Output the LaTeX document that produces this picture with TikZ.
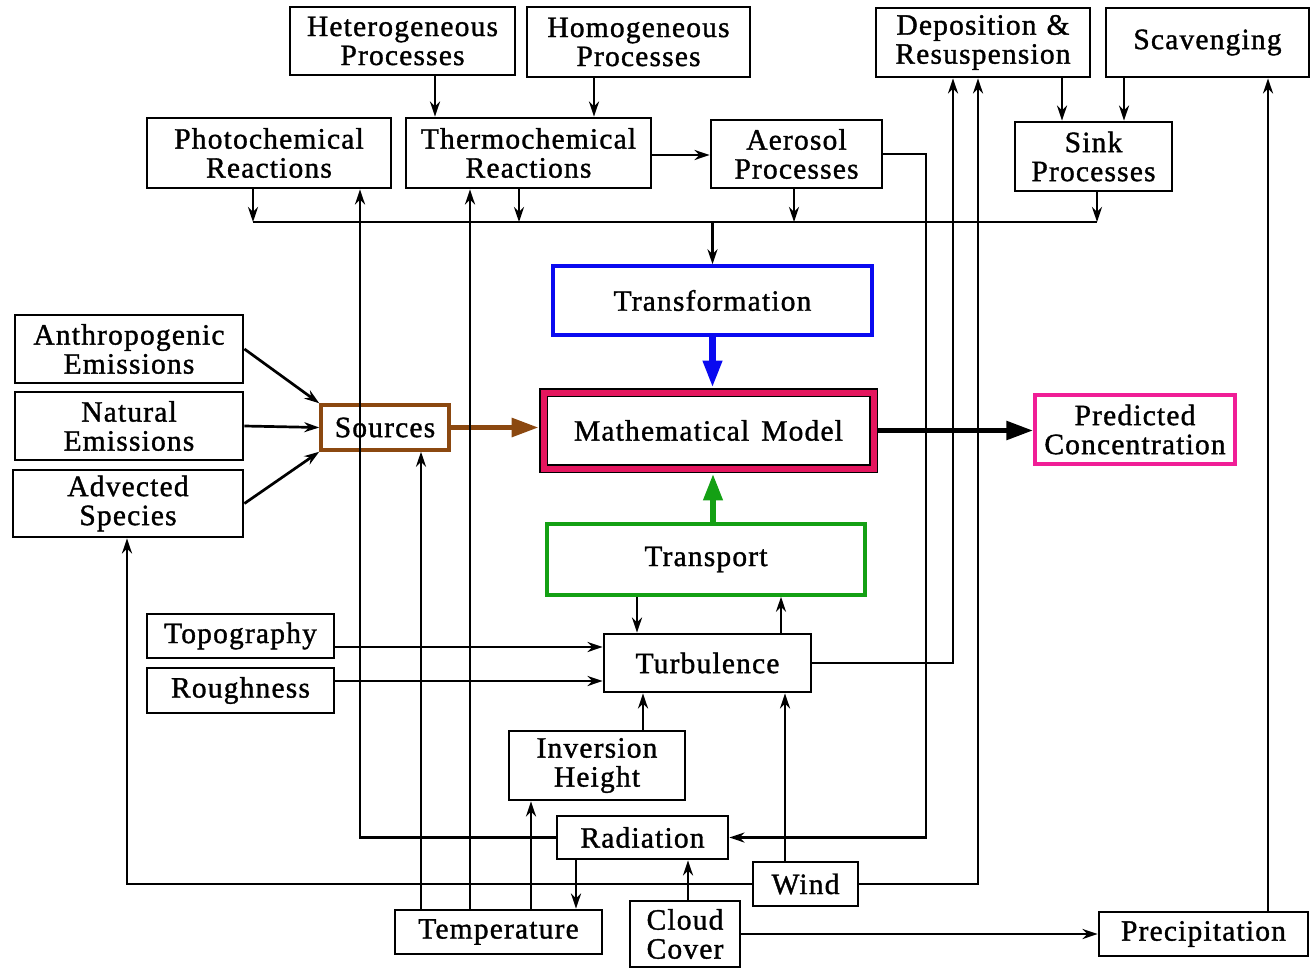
\documentclass[tikz,border=0pt]{standalone}
\usepackage{fontspec}
\setmainfont{Liberation Serif}[LetterSpace=4, FakeBold=1.2]
\usetikzlibrary{arrows.meta}
\definecolor{trfblue}{RGB}{10,10,240}
\definecolor{modelred}{RGB}{228,22,94}
\definecolor{srcbrown}{RGB}{139,72,16}
\definecolor{trpgreen}{RGB}{20,160,20}
\definecolor{predpink}{RGB}{240,30,150}
\begin{document}
\begin{tikzpicture}[x=1pt,y=-1pt,
  box/.style={draw, line width=2.8pt, align=center, inner sep=0pt,
    font=\fontsize{29.5}{29}\selectfont},
  arr/.style={line width=2.7pt, -{Stealth[length=15pt,width=10pt]}},
  ln/.style={line width=2.7pt},
  fat/.style={line width=5.5pt, -{Triangle[length=27pt,width=18pt]}}]
\useasboundingbox (0,0) rectangle (1311,969);

% ---- top row
\node[box, minimum width=225pt, minimum height=68pt] (het)  at (402.5,41)   {Heterogeneous\\Processes};
\node[box, minimum width=223pt, minimum height=70pt] (hom)  at (638.5,42)   {Homogeneous\\Processes};
\node[box, minimum width=214pt, minimum height=69pt] (dep)  at (983,42.5)   {Deposition\hspace{10pt}\&\\Resuspension};
\node[box, minimum width=203pt, minimum height=69pt] (scav) at (1207.5,42.5){Scavenging};
% ---- second row
\node[box, minimum width=244pt, minimum height=70pt] (photo)  at (269,153)    {Photochemical\\Reactions};
\node[box, minimum width=245pt, minimum height=70pt] (thermo) at (528.5,153)  {Thermochemical\\Reactions};
\node[box, minimum width=171pt, minimum height=68pt] (aer)    at (796.5,154)  {Aerosol\\Processes};
\node[box, minimum width=157pt, minimum height=69pt] (sink)   at (1093.5,156.5){Sink\\Processes};
% ---- central column
\node[box, draw=trfblue, line width=3.5pt, minimum width=319pt, minimum height=69pt] (trf) at (712.5,300.5) {Transformation};
\node[box, draw=black, double=modelred, line width=1.8pt, double distance=6pt,
      minimum width=330pt, minimum height=76pt, outer sep=4.8pt] (model) at (708.5,430.5)
      {Mathematical\hspace{12pt}Model};
\node[box, draw=trpgreen, line width=3.5pt, minimum width=318pt, minimum height=71pt] (trp) at (706,559.5) {Transport};
\node[box, draw=predpink, line width=3.5pt, minimum width=200pt, minimum height=69pt] (pred) at (1135,429.5) {Predicted\\Concentration};
% ---- emissions
\node[box, minimum width=228pt, minimum height=68pt] (anth) at (129,349)   {Anthropogenic\\Emissions};
\node[box, minimum width=228pt, minimum height=68pt] (nat)  at (129,426)   {Natural\\Emissions};
\node[box, minimum width=230pt, minimum height=67pt] (adv)  at (128,503.5) {Advected\\Species};
\node[box, draw=srcbrown, line width=3.5pt, minimum width=128pt, minimum height=45pt] (src) at (385,427.5) {Sources};
% ---- meteorology
\node[box, minimum width=187pt, minimum height=44pt] (topo)  at (240.5,636)   {Topography};
\node[box, minimum width=187pt, minimum height=45pt] (rough) at (240.5,690.5) {Roughness};
\node[box, minimum width=207pt, minimum height=58pt] (turb)  at (707.5,663)   {Turbulence};
\node[box, minimum width=176pt, minimum height=69pt] (inv)   at (597,765.5)   {Inversion\\Height};
\node[box, minimum width=171pt, minimum height=43pt] (rad)   at (642.5,837.5) {Radiation};
\node[box, minimum width=105pt, minimum height=44pt] (wind)  at (805.5,884)   {Wind};
\node[box, minimum width=207pt, minimum height=44pt] (temp)  at (498.5,932)   {Temperature};
\node[box, minimum width=110pt, minimum height=66pt] (cloud) at (685,934)     {Cloud\\Cover};
\node[box, minimum width=209pt, minimum height=44pt] (prec)  at (1203.5,934)  {Precipitation};

% ---- routing lanes
\coordinate (yBus) at (0,222);
\coordinate (yTA) at (0,155);
\coordinate (yTopo) at (0,647);
\coordinate (yRough) at (0,681);
\foreach \n/\x in {xHet/435, xHom/594, xDS/1062, xSS/1124, xPB/253, xTB/519, xAB/794, xSB/1097,
                   xRP/360, xTS/421, xTT/470, xTI/531, xRT/576, xCR/688, xWT/785, xTuT/781,
                   xTrT/637, xIT/643, xTD/953, xWD/978, xWA/127, xAR/926, xPS/1268, xG/713}
  \coordinate (\n) at (\x,0);

% ---- process connections
\draw[arr] (xHet |- het.south) -- (xHet |- thermo.north);
\draw[arr] (xHom |- hom.south) -- (xHom |- thermo.north);
\draw[arr] (thermo.east |- yTA) -- (aer.west |- yTA);
\draw[arr] (xDS |- dep.south) -- (xDS |- sink.north);
\draw[arr] (xSS |- scav.south) -- (xSS |- sink.north);
\draw[arr] (xPB |- photo.south) -- (xPB |- yBus);
\draw[arr] (xTB |- thermo.south) -- (xTB |- yBus);
\draw[arr] (xAB |- aer.south) -- (xAB |- yBus);
\draw[arr] (xSB |- sink.south) -- (xSB |- yBus);
\draw[ln] (xPB |- yBus) -- (xSB |- yBus);
\draw[arr] (trf.north |- yBus) -- (trf.north);

% ---- emissions into sources
\draw[arr] (anth.east) -- (src.north west);
\draw[arr] (nat.east) -- (src.west);
\draw[arr] (adv.east) -- (src.south west);

% ---- main flows
\draw[fat, srcbrown] (src.east) -- (model.west |- src.east);
\draw[fat, trfblue, line width=6.5pt] (trf.south) -- (trf.south |- model.north);
\draw[fat, trpgreen, line width=6.5pt] (xG |- trp.north) -- (xG |- model.south);
\draw[fat, black] (model.east) -- (pred.west |- model.east);

% ---- meteorological drivers
\draw[arr] (rad.west) -| (xRP |- photo.south);
\draw[arr] (xTS |- temp.north) -- (xTS |- src.south);
\draw[arr] (xTT |- temp.north) -- (xTT |- thermo.south);
\draw[arr] (xTI |- temp.north) -- (xTI |- inv.south);
\draw[arr] (xRT |- rad.south) -- (xRT |- temp.north);
\draw[arr] (xCR |- cloud.north) -- (xCR |- rad.south);
\draw[arr] (xWT |- wind.north) -- (xWT |- turb.south);
\draw[arr] (xTuT |- turb.north) -- (xTuT |- trp.south);
\draw[arr] (xTrT |- trp.south) -- (xTrT |- turb.north);
\draw[arr] (xIT |- inv.north) -- (xIT |- turb.south);
\draw[arr] (topo.east |- yTopo) -- (turb.west |- yTopo);
\draw[arr] (rough.east |- yRough) -- (turb.west |- yRough);
\draw[arr] (turb.east) -| (xTD |- dep.south);
\draw[arr] (wind.east) -| (xWD |- dep.south);
\draw[arr] (wind.west) -| (xWA |- adv.south);
\draw[arr] (aer.east) -| (xAR |- rad.east) -- (rad.east);
\draw[arr] (cloud.east) -- (prec.west |- cloud.east);
\draw[arr] (xPS |- prec.north) -- (xPS |- scav.south);
\end{tikzpicture}
\end{document}
